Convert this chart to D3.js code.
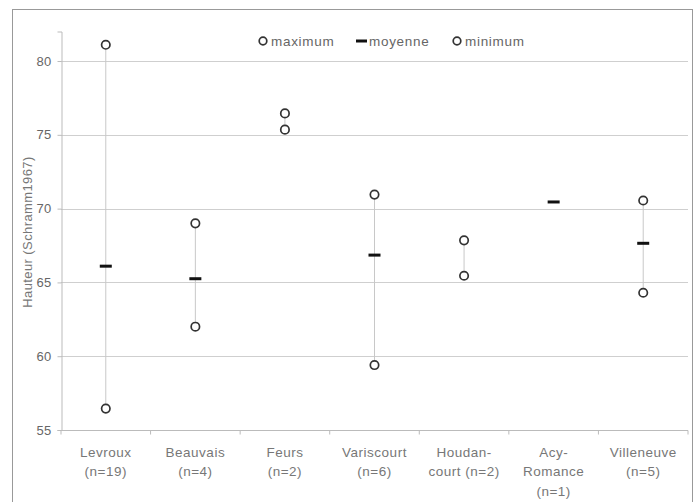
<!DOCTYPE html>
<html><head><meta charset="utf-8">
<script src="https://cdn.jsdelivr.net/npm/d3@7"></script>
<style>body{margin:0;background:#fff}svg{display:block;font-family:"Liberation Sans",Arial,sans-serif}</style>
</head><body><svg id="c" width="696" height="502"></svg>
<script>
const categories = [["Levroux","(n=19)"],["Beauvais","(n=4)"],["Feurs","(n=2)"],["Variscourt","(n=6)"],["Houdan-","court (n=2)"],["Acy-","Romance","(n=1)"],["Villeneuve","(n=5)"]];
const maximum = [81.1, 69.0, 76.45, 70.95, 67.85, null, 70.55];
const moyenne = [66.1, 65.25, null, 66.85, null, 70.45, 67.65];
const minimum = [56.45, 62.0, 75.35, 59.4, 65.45, null, 64.3];
const yTicks = [55, 60, 65, 70, 75, 80];
const legendItems = ["maximum", "moyenne", "minimum"];

const svg = d3.select("#c");
const M = {l:61, r:688, t:31.5, b:430};
const ids = categories.map((d,i)=>i);
const x = d3.scaleBand().domain(ids).range([M.l, M.r]);
const y = d3.scaleLinear().domain([55, 82]).range([M.b, M.t]);

// outer frame
svg.append("rect").attr("x",12.5).attr("y",9.5).attr("width",680).attr("height",500)
  .attr("fill","none").attr("stroke","#999").attr("stroke-width",1);

// gridlines
svg.append("g").selectAll("line").data(yTicks.filter(t=>t>55)).join("line")
  .attr("x1",M.l).attr("x2",M.r).attr("y1",d=>Math.round(y(d))+0.5).attr("y2",d=>Math.round(y(d))+0.5)
  .attr("stroke","#cfcfcf");

// y axis
const ya = svg.append("g").attr("transform",`translate(${M.l+0.5},0)`)
  .call(d3.axisLeft(y).tickValues(yTicks).tickSize(4).tickPadding(6));
ya.select(".domain").attr("stroke","#bbb");
ya.selectAll(".tick line").attr("stroke","#bbb");
ya.selectAll("text").attr("fill","#666").style("font-size","13px").style("letter-spacing","0.3px");

// x axis
const xa = svg.append("g").attr("transform",`translate(0,${Math.round(y(55))+0.5})`);
xa.append("line").attr("x1",M.l).attr("x2",M.r).attr("stroke","#bbb");
xa.selectAll("line.tk").data(d3.range(categories.length+1)).join("line").attr("class","tk")
  .attr("x1",i=>M.l+i*x.bandwidth()).attr("x2",i=>M.l+i*x.bandwidth()).attr("y1",0).attr("y2",4).attr("stroke","#bbb");
xa.selectAll("text").data(categories).join("text")
  .attr("text-anchor","middle").attr("fill","#777").style("font-size","13.5px").style("letter-spacing","0.5px")
  .attr("transform",(d,i)=>`translate(${x(i)+x.bandwidth()/2},26)`)
  .each(function(d){ d3.select(this).selectAll("tspan").data(d).join("tspan").attr("x",0).attr("dy",(t,j)=>j?19.5:0).text(t=>t); });

// y label
svg.append("text").attr("transform",`translate(32,232) rotate(-90)`).attr("text-anchor","middle")
  .attr("fill","#777").style("font-size","13px").style("letter-spacing","0.4px").text("Hauteur (Schramm1967)");

// range lines
const cx = i => x(i)+x.bandwidth()/2;
svg.append("g").selectAll("line").data(ids.filter(i=>maximum[i]!=null && minimum[i]!=null)).join("line")
  .attr("x1",i=>cx(i)).attr("x2",i=>cx(i)).attr("y1",i=>y(maximum[i])).attr("y2",i=>y(minimum[i]))
  .attr("stroke","#c8c8c8");

// means
svg.append("g").selectAll("rect").data(ids.filter(i=>moyenne[i]!=null)).join("rect")
  .attr("x",i=>cx(i)-6).attr("y",i=>y(moyenne[i])-1.5).attr("width",12).attr("height",3).attr("fill","#111");

// circles
function circles(arr){
  svg.append("g").selectAll("circle").data(ids.filter(i=>arr[i]!=null)).join("circle")
    .attr("cx",i=>cx(i)).attr("cy",i=>y(arr[i])).attr("r",4.2)
    .attr("fill","#fff").attr("stroke","#333").attr("stroke-width",1.7);
}
circles(maximum); circles(minimum);

// legend
const lg = svg.append("g").style("font-size","13.5px").style("letter-spacing","0.7px");
const lx = [263, 362, 457];
legendItems.forEach((name,k)=>{
  if(name==="moyenne") lg.append("rect").attr("x",lx[k]-6).attr("y",39.5).attr("width",11).attr("height",3).attr("fill","#111");
  else lg.append("circle").attr("cx",lx[k]).attr("cy",41).attr("r",3.8).attr("fill","#fff").attr("stroke","#333").attr("stroke-width",1.7);
  lg.append("text").attr("x",lx[k]+(name==="moyenne"?7:8)).attr("y",46).attr("fill","#666").text(name);
});
</script></body></html>
